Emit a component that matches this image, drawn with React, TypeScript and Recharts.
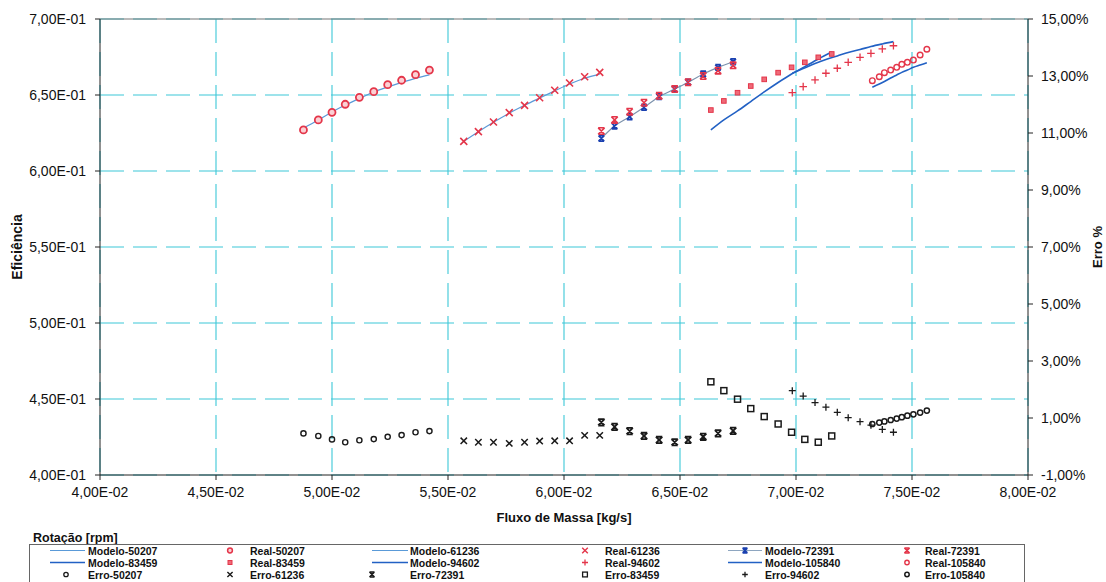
import React from 'react';
import { ComposedChart, XAxis, YAxis, CartesianGrid, Line, Scatter, ReferenceLine } from 'recharts';

// ---------- axis ticks ----------
const xTicks = [0.04, 0.045, 0.05, 0.055, 0.06, 0.065, 0.07, 0.075, 0.08];
const effTicks = [0.4, 0.45, 0.5, 0.55, 0.6, 0.65, 0.7];
const errTicks = [-1, 1, 3, 5, 7, 9, 11, 13, 15];

// ---------- 50207 rpm ----------
const fluxo50207 = [0.04877, 0.04941, 0.05, 0.05057, 0.05118, 0.0518, 0.0524, 0.053, 0.0536, 0.0542];
const real50207 = [0.627, 0.6336, 0.6386, 0.6439, 0.6485, 0.6522, 0.6568, 0.6597, 0.6634, 0.6664];
const modelo50207 = [0.6283, 0.6336, 0.6388, 0.6434, 0.6477, 0.652, 0.6553, 0.6582, 0.6609, 0.6632];
const erro50207 = [0.46, 0.37, 0.25, 0.15, 0.22, 0.26, 0.34, 0.4, 0.5, 0.54];

// ---------- 61236 rpm ----------
const fluxo61236 = [0.05568, 0.05631, 0.05696, 0.05764, 0.0583, 0.05895, 0.0596, 0.06024, 0.06089, 0.06154];
const real61236 = [0.6195, 0.6259, 0.6322, 0.6384, 0.6432, 0.6482, 0.6531, 0.6579, 0.662, 0.6649];
const modelo61236 = [0.6195, 0.6258, 0.632, 0.638, 0.6432, 0.648, 0.6527, 0.6572, 0.661, 0.6637];
const erro61236 = [0.2, 0.15, 0.15, 0.11, 0.15, 0.19, 0.2, 0.2, 0.39, 0.39];

// ---------- 72391 rpm ----------
const fluxo72391 = [0.06161, 0.06218, 0.06283, 0.06345, 0.0641, 0.06477, 0.06535, 0.066, 0.06664, 0.06729];
const real72391 = [0.6263, 0.6336, 0.639, 0.6449, 0.6495, 0.6539, 0.6584, 0.6625, 0.666, 0.6695];
const modelo72391 = [0.6215, 0.6296, 0.6357, 0.6419, 0.6489, 0.6539, 0.6584, 0.6638, 0.6682, 0.6719];
const erro72391 = [0.85, 0.69, 0.54, 0.37, 0.23, 0.15, 0.23, 0.34, 0.46, 0.55];

// ---------- 83459 rpm ----------
const fluxo83459 = [0.06633, 0.06689, 0.06748, 0.06805, 0.06863, 0.06923, 0.06981, 0.07038, 0.07096, 0.07154];
const real83459 = [0.6401, 0.6461, 0.6515, 0.6559, 0.6603, 0.6647, 0.6682, 0.6715, 0.6748, 0.677];
const modelo83459 = [0.627, 0.6336, 0.6395, 0.6457, 0.652, 0.6582, 0.6638, 0.6687, 0.6737, 0.6783];
const erro83459 = [2.27, 1.96, 1.66, 1.33, 1.05, 0.79, 0.5, 0.25, 0.15, 0.37];

// ---------- 94602 rpm ----------
const fluxo94602 = [0.06984, 0.07031, 0.07082, 0.07129, 0.07178, 0.07225, 0.07276, 0.07323, 0.07372, 0.0742];
const real94602 = [0.6515, 0.6555, 0.6599, 0.6643, 0.6676, 0.6715, 0.6748, 0.6774, 0.6803, 0.6824];
const modelo94602 = [0.6643, 0.6674, 0.6707, 0.6734, 0.6757, 0.678, 0.6799, 0.6819, 0.6836, 0.6851];
const erro94602 = [1.96, 1.77, 1.54, 1.38, 1.2, 1.01, 0.87, 0.75, 0.6, 0.5];

// ---------- 105840 rpm ----------
const fluxo105840 = [0.07329, 0.07359, 0.07381, 0.07408, 0.07434, 0.07456, 0.0748, 0.07506, 0.07535, 0.07564];
const real105840 = [0.6594, 0.662, 0.6647, 0.6664, 0.6682, 0.6702, 0.6715, 0.673, 0.6763, 0.6801];
const modelo105840 = [0.6551, 0.6572, 0.6589, 0.6612, 0.6632, 0.6649, 0.6664, 0.6682, 0.6697, 0.6712];
const erro105840 = [0.79, 0.84, 0.88, 0.93, 0.98, 1.03, 1.08, 1.13, 1.19, 1.26];

const zip = (xs: number[], ys: number[]) => xs.map((x, i) => ({ x, y: ys[i] }));

const RED = '#e4364a';
const BLACK = '#1a1a1a';
const LIGHTBLUE = '#5a9ad8';
const DARKBLUE = '#2261c4';
const GRID = '#3cc8d8';
const FONT = '"Liberation Sans", Arial, sans-serif';

// ---------- marker drawing ----------
type MK = (cx: number, cy: number, color: string, key?: any) => React.ReactElement;

const openCircle = (r: number, w: number, fill = 'none'): MK => (cx, cy, c, k) => (
  <circle key={k} cx={cx} cy={cy} r={r} fill={fill} stroke={c} strokeWidth={w} />
);
const xMark = (s: number, w: number): MK => (cx, cy, c, k) => (
  <path key={k} d={`M${cx - s},${cy - s}L${cx + s},${cy + s}M${cx - s},${cy + s}L${cx + s},${cy - s}`} stroke={c} strokeWidth={w} fill="none" />
);
const hourglass = (s: number, w: number): MK => (cx, cy, c, k) => (
  <path key={k} d={`M${cx - s},${cy - s}L${cx + s},${cy + s}M${cx - s},${cy + s}L${cx + s},${cy - s}M${cx - s},${cy - s}L${cx + s},${cy - s}M${cx - s},${cy + s}L${cx + s},${cy + s}`} stroke={c} strokeWidth={w} fill="none" />
);
const square = (s: number, w: number, fill: string): MK => (cx, cy, c, k) => (
  <rect key={k} x={cx - s} y={cy - s} width={2 * s} height={2 * s} fill={fill} stroke={c} strokeWidth={w} />
);
const plus = (s: number, w: number): MK => (cx, cy, c, k) => (
  <path key={k} d={`M${cx - s},${cy}L${cx + s},${cy}M${cx},${cy - s}L${cx},${cy + s}`} stroke={c} strokeWidth={w} fill="none" />
);

const mkShape = (m: MK, color: string) => (props: any) => {
  const { cx, cy } = props;
  if (cx == null || cy == null) return <g />;
  return m(cx, cy, color);
};

const realSeries = [
  { name: 'Real-50207', data: zip(fluxo50207, real50207), m: openCircle(3.5, 1.8, '#fbd0d4') },
  { name: 'Real-61236', data: zip(fluxo61236, real61236), m: xMark(3.5, 1.6) },
  { name: 'Real-72391', data: zip(fluxo72391, real72391), m: hourglass(3.2, 1.6) },
  { name: 'Real-83459', data: zip(fluxo83459, real83459), m: square(2.3, 1, '#ee6a78') },
  { name: 'Real-94602', data: zip(fluxo94602, real94602), m: plus(3.8, 1.3) },
  { name: 'Real-105840', data: zip(fluxo105840, real105840), m: openCircle(2.8, 1.4) },
];

const erroSeries = [
  { name: 'Erro-50207', data: zip(fluxo50207, erro50207), m: openCircle(2.6, 1.4) },
  { name: 'Erro-61236', data: zip(fluxo61236, erro61236), m: xMark(3.2, 1.5) },
  { name: 'Erro-72391', data: zip(fluxo72391, erro72391), m: hourglass(3.2, 1.8) },
  { name: 'Erro-83459', data: zip(fluxo83459, erro83459), m: square(3, 1.5, 'none') },
  { name: 'Erro-94602', data: zip(fluxo94602, erro94602), m: plus(3.5, 1.3) },
  { name: 'Erro-105840', data: zip(fluxo105840, erro105840), m: openCircle(2.6, 1.5) },
];

const modeloSeries = [
  { name: 'Modelo-50207', data: zip(fluxo50207, modelo50207), color: LIGHTBLUE, w: 1.2 },
  { name: 'Modelo-61236', data: zip(fluxo61236, modelo61236), color: LIGHTBLUE, w: 1.2 },
  { name: 'Modelo-83459', data: zip(fluxo83459, modelo83459), color: DARKBLUE, w: 1.6 },
  { name: 'Modelo-94602', data: zip(fluxo94602, modelo94602), color: DARKBLUE, w: 1.6 },
  { name: 'Modelo-105840', data: zip(fluxo105840, modelo105840), color: DARKBLUE, w: 1.6 },
];

const fmtEff = (v: number) => {
  const e = Math.floor(Math.log10(v));
  const m = v / Math.pow(10, e);
  return `${m.toFixed(2).replace('.', ',')}E-${String(Math.abs(e)).padStart(2, '0')}`;
};
const fmtErr = (v: number) => `${v.toFixed(2).replace('.', ',')}%`;

const tickStyle = { fill: '#111', fontSize: 14, fontFamily: FONT };

// ---------- legend ----------
type LegItem = { label: string; kind: 'line' | 'mark'; color?: string; w?: number; m?: MK; mc?: string; lineMark?: boolean };
const legendRows: LegItem[][] = [
  [
    { label: 'Modelo-50207', kind: 'line', color: LIGHTBLUE, w: 1.2 },
    { label: 'Real-50207', kind: 'mark', m: openCircle(2.4, 1.5, '#fbd0d4'), mc: RED },
    { label: 'Modelo-61236', kind: 'line', color: LIGHTBLUE, w: 1.2 },
    { label: 'Real-61236', kind: 'mark', m: xMark(2.8, 1.4), mc: RED },
    { label: 'Modelo-72391', kind: 'line', color: '#8ea6c0', w: 1.2, lineMark: true },
    { label: 'Real-72391', kind: 'mark', m: hourglass(2.6, 1.5), mc: RED },
  ],
  [
    { label: 'Modelo-83459', kind: 'line', color: DARKBLUE, w: 1.6 },
    { label: 'Real-83459', kind: 'mark', m: square(2, 1, '#ee6a78'), mc: RED },
    { label: 'Modelo-94602', kind: 'line', color: DARKBLUE, w: 1.6 },
    { label: 'Real-94602', kind: 'mark', m: plus(3, 1.3), mc: RED },
    { label: 'Modelo-105840', kind: 'line', color: DARKBLUE, w: 1.6 },
    { label: 'Real-105840', kind: 'mark', m: openCircle(2.2, 1.4), mc: RED },
  ],
  [
    { label: 'Erro-50207', kind: 'mark', m: openCircle(2.2, 1.3), mc: BLACK },
    { label: 'Erro-61236', kind: 'mark', m: xMark(2.6, 1.4), mc: BLACK },
    { label: 'Erro-72391', kind: 'mark', m: hourglass(2.5, 1.5), mc: BLACK },
    { label: 'Erro-83459', kind: 'mark', m: square(2.4, 1.3, 'none'), mc: BLACK },
    { label: 'Erro-94602', kind: 'mark', m: plus(2.8, 1.3), mc: BLACK },
    { label: 'Erro-105840', kind: 'mark', m: openCircle(2.2, 1.5), mc: BLACK },
  ],
];
const colText = [88, 250, 410, 605, 765, 925];
const colLine: [number, number][] = [[50, 85], [0, 0], [372, 408], [0, 0], [728, 762], [0, 0]];
const colMark = [66, 230, 372, 585, 745, 907];
const rowY = [30.5, 42.5, 54.5];

const LegendBox = () => (
  <svg width={1106} height={62} style={{ position: 'absolute', left: 0, top: 520 }}>
    <text x={33} y={17.5} fontFamily={FONT} fontWeight="bold" fontSize={12.5} dominantBaseline="central" fill="#111">Rotação [rpm]</text>
    <rect x={29.5} y={24.5} width={995} height={60} fill="none" stroke="#666" strokeWidth={1} />
    {legendRows.map((row, ri) =>
      row.map((it, ci) => {
        const y = rowY[ri];
        let sym: React.ReactNode = null;
        if (it.kind === 'line') {
          const [a, b] = colLine[ci];
          sym = (
            <g>
              <line x1={a} x2={b} y1={y} y2={y} stroke={it.color} strokeWidth={it.w} />
              {it.lineMark ? hourglass(2.4, 1.6)((a + b) / 2, y, '#1a40b0') : null}
            </g>
          );
        } else if (it.m) {
          sym = it.m(colMark[ci], y, it.mc || BLACK);
        }
        return (
          <g key={`${ri}-${ci}`}>
            {sym}
            <text x={colText[ci]} y={y} fontFamily={FONT} fontWeight="bold" fontSize={10.5} dominantBaseline="central" fill="#111">
              {it.label}
            </text>
          </g>
        );
      })
    )}
  </svg>
);

export default function App() {
  return (
    <div style={{ position: 'absolute', left: 0, top: 0, width: 1106, height: 582, background: '#fff', overflow: 'hidden' }}>
      <ComposedChart width={1106} height={582} margin={{ top: 19, right: 0, bottom: 57, left: 0 }}>
        <CartesianGrid yAxisId="left" stroke={GRID} strokeWidth={1.1} strokeDasharray="24 9" />
        <XAxis
          type="number"
          dataKey="x"
          domain={[0.04, 0.08]}
          ticks={xTicks}
          tickFormatter={fmtEff}
          allowDataOverflow
          height={50}
          tickSize={5}
          tickMargin={7}
          tick={tickStyle}
          stroke="#222"
          label={{ value: 'Fluxo de Massa [kg/s]', position: 'insideBottom', offset: 3, style: { fontFamily: FONT, fontWeight: 'bold', fontSize: 13, fill: '#111' } }}
        />
        <YAxis
          yAxisId="left"
          type="number"
          domain={[0.4, 0.7]}
          ticks={effTicks}
          tickFormatter={fmtEff}
          allowDataOverflow
          width={100}
          tickSize={5}
          tickMargin={9}
          tick={tickStyle}
          stroke="#222"
          label={{ value: 'Eficiência', angle: -90, position: 'insideLeft', offset: 17, style: { textAnchor: 'middle', fontFamily: FONT, fontWeight: 'bold', fontSize: 14, fill: '#111' } }}
        />
        <YAxis
          yAxisId="right"
          orientation="right"
          type="number"
          domain={[-1, 15]}
          ticks={errTicks}
          tickFormatter={fmtErr}
          allowDataOverflow
          width={78}
          tickSize={5}
          tickMargin={8}
          tick={tickStyle}
          stroke="#222"
          label={{ value: 'Erro %', angle: -90, position: 'insideRight', offset: 9, style: { textAnchor: 'middle', fontFamily: FONT, fontWeight: 'bold', fontSize: 13, fill: '#111' } }}
        />
        <ReferenceLine yAxisId="left" y={0.7} stroke="#777" strokeWidth={1.2} />

        {modeloSeries.map((s) => (
          <Line
            key={s.name}
            yAxisId="left"
            data={s.data}
            dataKey="y"
            name={s.name}
            type="monotone"
            stroke={s.color}
            strokeWidth={s.w}
            dot={false}
            activeDot={false}
            isAnimationActive={false}
          />
        ))}
        <Line
          yAxisId="left"
          data={zip(fluxo72391, modelo72391)}
          dataKey="y"
          name="Modelo-72391"
          type="monotone"
          stroke="#7d93ad"
          strokeWidth={1.2}
          dot={(p: any) => hourglass(2.8, 1.8)(p.cx, p.cy, '#1a40b0', p.index)}
          activeDot={false}
          isAnimationActive={false}
        />
        {realSeries.map((s) => (
          <Scatter
            key={s.name}
            yAxisId="left"
            data={s.data}
            dataKey="y"
            name={s.name}
            shape={mkShape(s.m, RED)}
            isAnimationActive={false}
          />
        ))}
        {erroSeries.map((s) => (
          <Scatter
            key={s.name}
            yAxisId="right"
            data={s.data}
            dataKey="y"
            name={s.name}
            shape={mkShape(s.m, BLACK)}
            isAnimationActive={false}
          />
        ))}
      </ComposedChart>
      <LegendBox />
    </div>
  );
}
